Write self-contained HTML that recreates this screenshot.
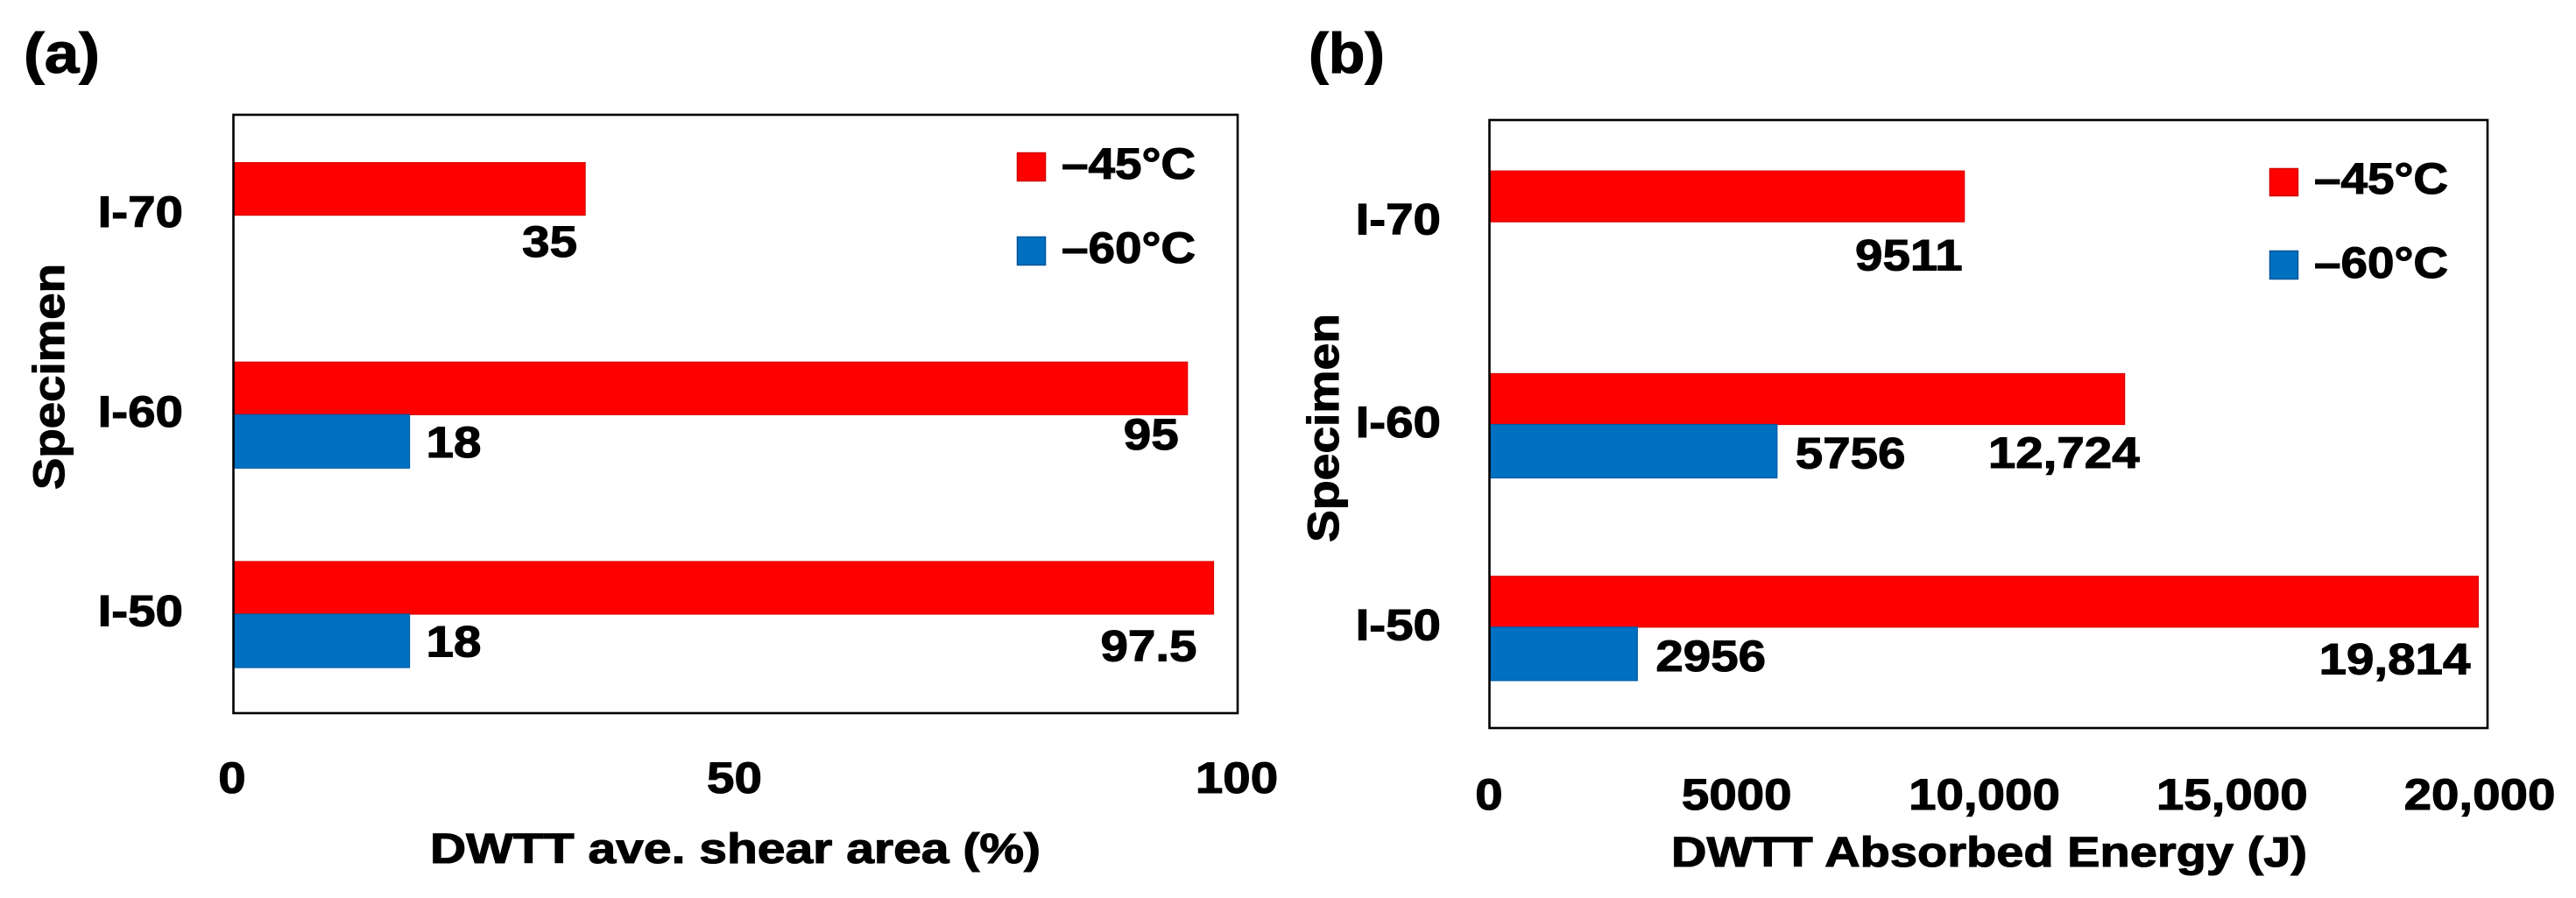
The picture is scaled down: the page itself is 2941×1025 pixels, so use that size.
<!DOCTYPE html>
<html lang="en">
<head>
<meta charset="utf-8">
<title>DWTT shear area and absorbed energy</title>
<style>
html,body{margin:0;padding:0;background:#fff;}
svg{display:block;}
text{font-family:"Liberation Sans",Arial,sans-serif;font-weight:700;fill:#000;stroke:#000;stroke-width:1.1px;}
</style>
</head>
<body>
<svg id="figure" xmlns="http://www.w3.org/2000/svg" width="2941" height="1025" viewBox="0 0 2941 1025">
  <rect x="0" y="0" width="2941" height="1025" fill="#fff"/>

  <text x="27" y="83" font-size="65" textLength="87" lengthAdjust="spacingAndGlyphs">(a)</text>
  <text x="1494" y="83" font-size="65" textLength="87" lengthAdjust="spacingAndGlyphs">(b)</text>

  <g id="panel-a"></g>
  <g id="panel-b"></g>

  <text transform="translate(73,559) rotate(-90)" font-size="50" textLength="258" lengthAdjust="spacingAndGlyphs">Specimen</text>
  <text transform="translate(1528,619) rotate(-90)" font-size="50" textLength="261" lengthAdjust="spacingAndGlyphs">Specimen</text>

  <text x="491" y="985" font-size="48" textLength="697" lengthAdjust="spacingAndGlyphs">DWTT ave. shear area (%)</text>
  <text x="1908" y="989" font-size="48" textLength="726" lengthAdjust="spacingAndGlyphs">DWTT Absorbed Energy (J)</text>

  <g>
    <rect x="1161.5" y="174.5" width="32" height="32" fill="#ff0000" stroke="#d40000" stroke-width="1.5"/>
    <text x="1212" y="204" font-size="50" textLength="153" lengthAdjust="spacingAndGlyphs">–45°C</text>
    <rect x="1161.5" y="270.5" width="32" height="32" fill="#0070c0" stroke="#00549a" stroke-width="1.5"/>
    <text x="1212" y="300" font-size="50" textLength="153" lengthAdjust="spacingAndGlyphs">–60°C</text>
  </g>
  <g>
    <rect x="2591.5" y="192.5" width="32" height="31" fill="#ff0000" stroke="#d40000" stroke-width="1.5"/>
    <text x="2642" y="221" font-size="50" textLength="153" lengthAdjust="spacingAndGlyphs">–45°C</text>
    <rect x="2591.5" y="286.5" width="32" height="32" fill="#0070c0" stroke="#00549a" stroke-width="1.5"/>
    <text x="2642" y="317" font-size="50" textLength="153" lengthAdjust="spacingAndGlyphs">–60°C</text>
  </g>
</svg>
<script>
const categories = ['I-70', 'I-60', 'I-50'];

const shearTicks = [0, 50, 100];
const shearTickLabels = ['0', '50', '100'];
const shearWarm = [35, 95, 97.6];
const shearCold = [null, 17.5, 17.5];
const shearWarmLabels = ['35', '95', '97.5'];
const shearColdLabels = [null, '18', '18'];

const energyTicks = [0, 5000, 10000, 15000, 20000];
const energyTickLabels = ['0', '5000', '10,000', '15,000', '20,000'];
const energyWarm = [9511, 12724, 19814];
const energyCold = [null, 5756, 2956];
const energyWarmLabels = ['9511', '12,724', '19,814'];
const energyColdLabels = [null, '5756', '2956'];

const SVG_NS = 'http://www.w3.org/2000/svg';
const STRETCH = 1.13;

function makeRect(parent, x, y, w, h, fill, stroke, name) {
  const el = document.createElementNS(SVG_NS, 'rect');
  el.setAttribute('x', x);
  el.setAttribute('y', y);
  el.setAttribute('width', Math.max(0, w));
  el.setAttribute('height', h);
  el.setAttribute('fill', fill);
  el.setAttribute('stroke', stroke);
  
  
  parent.appendChild(el);
  return el;
}

function makeText(parent, x, y, str, anchor, name) {
  const el = document.createElementNS(SVG_NS, 'text');
  el.setAttribute('x', x);
  el.setAttribute('y', y);
  el.setAttribute('font-size', 50);
  el.setAttribute('text-anchor', anchor);
  
  
  el.textContent = str;
  parent.appendChild(el);
  const natural = el.getComputedTextLength();
  el.setAttribute('textLength', (natural * STRETCH).toFixed(1));
  el.setAttribute('lengthAdjust', 'spacingAndGlyphs');
  return el;
}

function drawPanel(p) {
  const root = document.getElementById(p.id);
  const xScale = v => p.left + (v - p.domainMin) / (p.domainMax - p.domainMin) * (p.right - p.left);
  const tickLabelX = v => p.tickLabelStart + (v - p.domainMin) / (p.domainMax - p.domainMin) * (p.tickLabelEnd - p.tickLabelStart);
  const band = (p.bottom - p.top) / categories.length;
  const yCenter = i => p.top + band * (i + 0.5) + p.bandShift;

  categories.forEach((cat, i) => {
    const c = yCenter(i);
    makeText(root, p.catLabelRight, c + p.catLabelDy, cat, 'end', 'category-label-' + cat.toLowerCase());

    const warmEnd = xScale(p.warm[i]);
    const warmBar = makeRect(root, p.left, c - p.warmHeight, warmEnd - p.left, p.warmHeight, '#ff0000', '#dc0000', 'bar-minus-45-' + cat.toLowerCase());
    warmBar.setAttribute('stroke-width', '1.2');
    const nudge = p.warmLabelNudge[i];
    makeText(root, warmEnd + nudge[0], c + nudge[1], p.warmLabels[i], 'end', 'value-label-minus-45-' + cat.toLowerCase());

    if (p.cold[i] !== null) {
      const coldEnd = xScale(p.cold[i]);
      const coldBar = makeRect(root, p.left, c, coldEnd - p.left, p.coldHeight, '#0070c0', '#005ba6', 'bar-minus-60-' + cat.toLowerCase());
      coldBar.setAttribute('stroke-width', '1.2');
      makeText(root, coldEnd + p.coldLabelDx, c + p.coldLabelDy, p.coldLabels[i], 'start', 'value-label-minus-60-' + cat.toLowerCase());
    }
  });

  p.ticks.forEach((t, i) => {
    makeText(root, tickLabelX(t), p.tickBaseline, p.tickLabels[i], 'middle', 'x-tick-label-' + t);
  });

  const frame = makeRect(root, p.left - 0.5, p.top, p.right - p.left + 0.5, p.bottom - p.top, 'none', '#000', 'plot-frame');
  frame.setAttribute('stroke-width', '2.6');
}

drawPanel({
  id: 'panel-a',
  left: 267, right: 1413, top: 131, bottom: 814,
  domainMin: 0, domainMax: 100, bandShift: 0.8,
  tickLabelStart: 265, tickLabelEnd: 1412, tickBaseline: 905,
  catLabelRight: 209, catLabelDy: 13.5,
  warmHeight: 60, coldHeight: 61,
  coldLabelDx: 19, coldLabelDy: 48.5,
  warmLabelNudge: [[-9, 47.5], [-10, 39.5], [-19, 53.5]],
  ticks: shearTicks, tickLabels: shearTickLabels,
  warm: shearWarm, cold: shearCold,
  warmLabels: shearWarmLabels, coldLabels: shearColdLabels
});

drawPanel({
  id: 'panel-b',
  left: 1701, right: 2840, top: 137, bottom: 831,
  domainMin: 0, domainMax: 20000, bandShift: 0.5,
  tickLabelStart: 1700, tickLabelEnd: 2831, tickBaseline: 924,
  catLabelRight: 1645, catLabelDy: 14.5,
  warmHeight: 58, coldHeight: 61,
  coldLabelDx: 21, coldLabelDy: 50,
  warmLabelNudge: [[-2, 55.5], [17, 49.5], [-9, 53.5]],
  ticks: energyTicks, tickLabels: energyTickLabels,
  warm: energyWarm, cold: energyCold,
  warmLabels: energyWarmLabels, coldLabels: energyColdLabels
});
</script>
</body>
</html>
